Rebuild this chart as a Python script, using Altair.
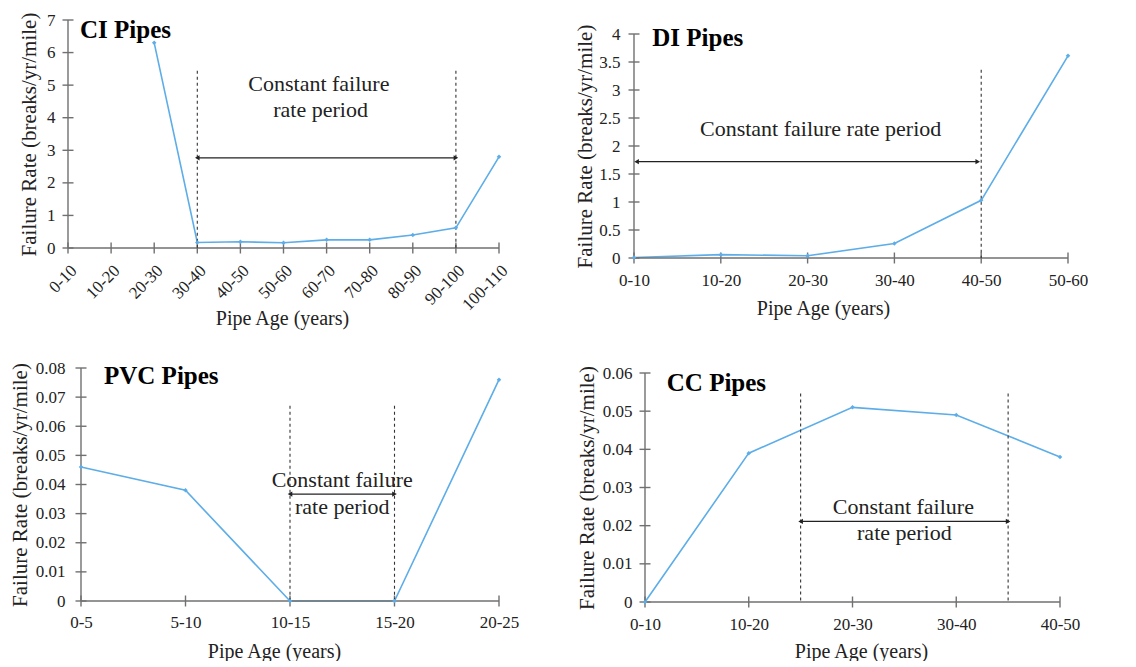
import altair as alt
import pandas as pd

FONT = "Liberation Serif"
LINE_COLOR = "#5DADE8"
AXIS_GRAY = "#707070"
TEXT_COLOR = "#222222"

# ---------------- data ----------------
ci_cats = ["0-10", "10-20", "20-30", "30-40", "40-50", "50-60", "60-70",
           "70-80", "80-90", "90-100", "100-110"]
ci_vals = [None, None, 6.30, 0.17, 0.19, 0.16, 0.25, 0.25, 0.40, 0.62, 2.80]
ci_yticks = [0, 1, 2, 3, 4, 5, 6, 7]

di_cats = ["0-10", "10-20", "20-30", "30-40", "40-50", "50-60"]
di_vals = [0.01, 0.06, 0.04, 0.26, 1.03, 3.61]
di_yticks = [0, 0.5, 1, 1.5, 2, 2.5, 3, 3.5, 4]

pvc_cats = ["0-5", "5-10", "10-15", "15-20", "20-25"]
pvc_vals = [0.046, 0.038, 0.0, 0.0, 0.076]
pvc_yticks = [0, 0.01, 0.02, 0.03, 0.04, 0.05, 0.06, 0.07, 0.08]

cc_cats = ["0-10", "10-20", "20-30", "30-40", "40-50"]
cc_vals = [0.0, 0.039, 0.051, 0.049, 0.038]
cc_yticks = [0, 0.01, 0.02, 0.03, 0.04, 0.05, 0.06]

# annotation values (data coordinates: x = category index, y = rate)
ci_vlines, ci_vtop = [3, 9], 5.44
ci_arrow = (3, 9, 2.77)
ci_notes = [("Constant failure", 5.82, 4.83), ("rate period", 5.86, 4.01)]
ci_title = ("CI Pipes", 0.28, 6.45)

di_vlines, di_vtop = [4], 3.36
di_arrow = (0.03, 3.96, 1.72)
di_notes = [("Constant failure rate period", 2.15, 2.18)]
di_title = ("DI Pipes", 0.21, 3.79)

pvc_vlines, pvc_vtop = [2, 3], 0.067
pvc_arrow = (2, 3, 0.0367)
pvc_notes = [("Constant failure", 2.5, 0.0393), ("rate period", 2.5, 0.0298)]
pvc_title = ("PVC Pipes", 0.22, 0.0745)

cc_vlines, cc_vtop = [1.5, 3.5], 0.0546
cc_arrow = (1.5, 3.5, 0.0211)
cc_notes = [("Constant failure", 2.49, 0.0231), ("rate period", 2.5, 0.0162)]
cc_title = ("CC Pipes", 0.21, 0.0553)

Y_TITLE = "Failure Rate (breaks/yr/mile)"
X_TITLE = "Pipe Age (years)"


def panel(cats, vals, yticks, vlines, vtop, arrow, notes, title,
          width, height, pad_left, pad_top, label_angle,
          ytitle_x, xtitle_x, xtitle_y, ylabel_pad, xlabel_pad):
    n = len(cats)
    ymax = yticks[-1]
    df = pd.DataFrame({"i": list(range(n)), "cat": cats, "val": vals}).dropna()
    x0 = -(n - 1) * pad_left / width
    y1 = ymax * (height + pad_top) / height
    xs = alt.Scale(domain=[x0, n - 1], nice=False, zero=False)
    ys = alt.Scale(domain=[0, y1], nice=False, zero=False)
    label_expr = "[" + ",".join("'" + c + "'" for c in cats) + "][datum.value]"

    x_axis = alt.Axis(values=list(range(n)), labelExpr=label_expr,
                      labelAngle=label_angle, title=X_TITLE, grid=False,
                      domain=False, ticks=False, tickSize=0, labelFlush=False,
                      labelFont=FONT, titleFont=FONT,
                      titleX=xtitle_x + pad_left, titleY=xtitle_y,
                      titleBaseline="alphabetic", labelPadding=xlabel_pad)
    y_axis = alt.Axis(values=yticks, format="~g", title=Y_TITLE, grid=False,
                      domain=False, ticks=False, tickSize=0, labelFlush=False,
                      labelFont=FONT, titleFont=FONT,
                      titleX=ytitle_x, titleY=pad_top + height / 2,
                      titleBaseline="middle", labelPadding=ylabel_pad)

    X = lambda f: alt.X(f, scale=xs, axis=x_axis)
    Y = lambda f: alt.Y(f, scale=ys, axis=y_axis)

    base = alt.Chart(df)
    line = base.mark_line(color=LINE_COLOR, strokeWidth=1.6).encode(
        x=X("i:Q"), y=Y("val:Q"))
    pts = base.mark_point(shape="diamond", filled=True, size=20,
                          color=LINE_COLOR, opacity=1).encode(
        x=X("i:Q"), y=Y("val:Q"))

    # axis lines and crossing tick marks
    ax_df = pd.DataFrame({"x1": [0], "x2": [n - 1], "y1": [0], "y2": [ymax]})
    xline = alt.Chart(ax_df).mark_rule(color=AXIS_GRAY, strokeWidth=1.4).encode(
        x=X("x1:Q"), x2="x2:Q", y=Y("y1:Q"))
    yline = alt.Chart(ax_df).mark_rule(color=AXIS_GRAY, strokeWidth=1.4).encode(
        x=X("x1:Q"), y=Y("y1:Q"), y2="y2:Q")
    xt_df = pd.DataFrame({"x": list(range(n)), "y": [0] * n})
    xticks = alt.Chart(xt_df).mark_tick(orient="vertical", size=11,
                                        thickness=1.4, color=AXIS_GRAY,
                                        opacity=1).encode(
        x=X("x:Q"), y=Y("y:Q"))
    yt_df = pd.DataFrame({"x": [0] * len(yticks), "y": yticks})
    yticks_m = alt.Chart(yt_df).mark_tick(orient="horizontal", size=11,
                                          thickness=1.4, color=AXIS_GRAY,
                                          opacity=1).encode(
        x=X("x:Q"), y=Y("y:Q"))

    vdf = pd.DataFrame({"x": vlines, "top": [vtop] * len(vlines),
                        "bot": [0] * len(vlines)})
    vr = alt.Chart(vdf).mark_rule(color="#333333", strokeDash=[3, 3],
                                  strokeWidth=1.1).encode(
        x=X("x:Q"), y=Y("top:Q"), y2="bot:Q")

    adf = pd.DataFrame({"x1": [arrow[0]], "x2": [arrow[1]], "y": [arrow[2]]})
    ar = alt.Chart(adf).mark_rule(color="#222222", strokeWidth=1.3).encode(
        x=X("x1:Q"), x2="x2:Q", y=Y("y:Q"))
    hdf = pd.DataFrame({"x": [arrow[0], arrow[1]], "y": [arrow[2]] * 2,
                        "shape": ["triangle-left", "triangle-right"]})
    heads = alt.Chart(hdf).mark_point(filled=True, size=28, color="#222222",
                                      opacity=1).encode(
        x=X("x:Q"), y=Y("y:Q"),
        shape=alt.Shape("shape:N", scale=None, legend=None))

    tdf = pd.DataFrame({"t": [t[0] for t in notes], "x": [t[1] for t in notes],
                        "y": [t[2] for t in notes]})
    txt = alt.Chart(tdf).mark_text(font=FONT, fontSize=22, color=TEXT_COLOR,
                                   align="center", baseline="alphabetic").encode(
        x=X("x:Q"), y=Y("y:Q"), text="t:N")

    ttl_df = pd.DataFrame({"t": [title[0]], "x": [title[1]], "y": [title[2]]})
    ttl = alt.Chart(ttl_df).mark_text(font=FONT, fontSize=25, fontWeight="bold",
                                      color="#000000", align="left",
                                      baseline="alphabetic").encode(
        x=X("x:Q"), y=Y("y:Q"), text="t:N")

    return alt.layer(line, xline, yline, xticks, yticks_m, vr, ar, heads, pts,
                     txt, ttl).properties(width=width + pad_left,
                                          height=height + pad_top)


ci = panel(ci_cats, ci_vals, ci_yticks, ci_vlines, ci_vtop, ci_arrow, ci_notes,
           ci_title, 431, 228, 0, 0, -45, -39, 214, 76, 13, 14)
di = panel(di_cats, di_vals, di_yticks, di_vlines, di_vtop, di_arrow, di_notes,
           di_title, 434, 224, 0, 14, 0, -49, 189, 56, 14, 14)
pvc = panel(pvc_cats, pvc_vals, pvc_yticks, pvc_vlines, pvc_vtop, pvc_arrow,
            pvc_notes, pvc_title, 418, 233, 13, 0, 0, -48, 193, 56, 3, 13)
cc = panel(cc_cats, cc_vals, cc_yticks, cc_vlines, cc_vtop, cc_arrow, cc_notes,
           cc_title, 415, 229, 0, 5, 0, -58, 216, 55, 13, 14)

top = alt.hconcat(ci, di, spacing=62)
bottom = alt.hconcat(pvc, cc, spacing=56)
chart = alt.vconcat(top, bottom, spacing=31).properties(
    padding={"left": 0, "top": 3, "right": 0, "bottom": 0}
).configure_view(
    stroke=None
).configure_axis(
    labelFont=FONT, titleFont=FONT, labelFontSize=17,
    labelColor=TEXT_COLOR, titleColor=TEXT_COLOR, titleFontWeight="normal",
    labelOverlap=False
).configure_axisX(titleFontSize=20).configure_axisY(titleFontSize=21)

chart.save("out.html", embed_options={"renderer": "svg", "actions": False})
